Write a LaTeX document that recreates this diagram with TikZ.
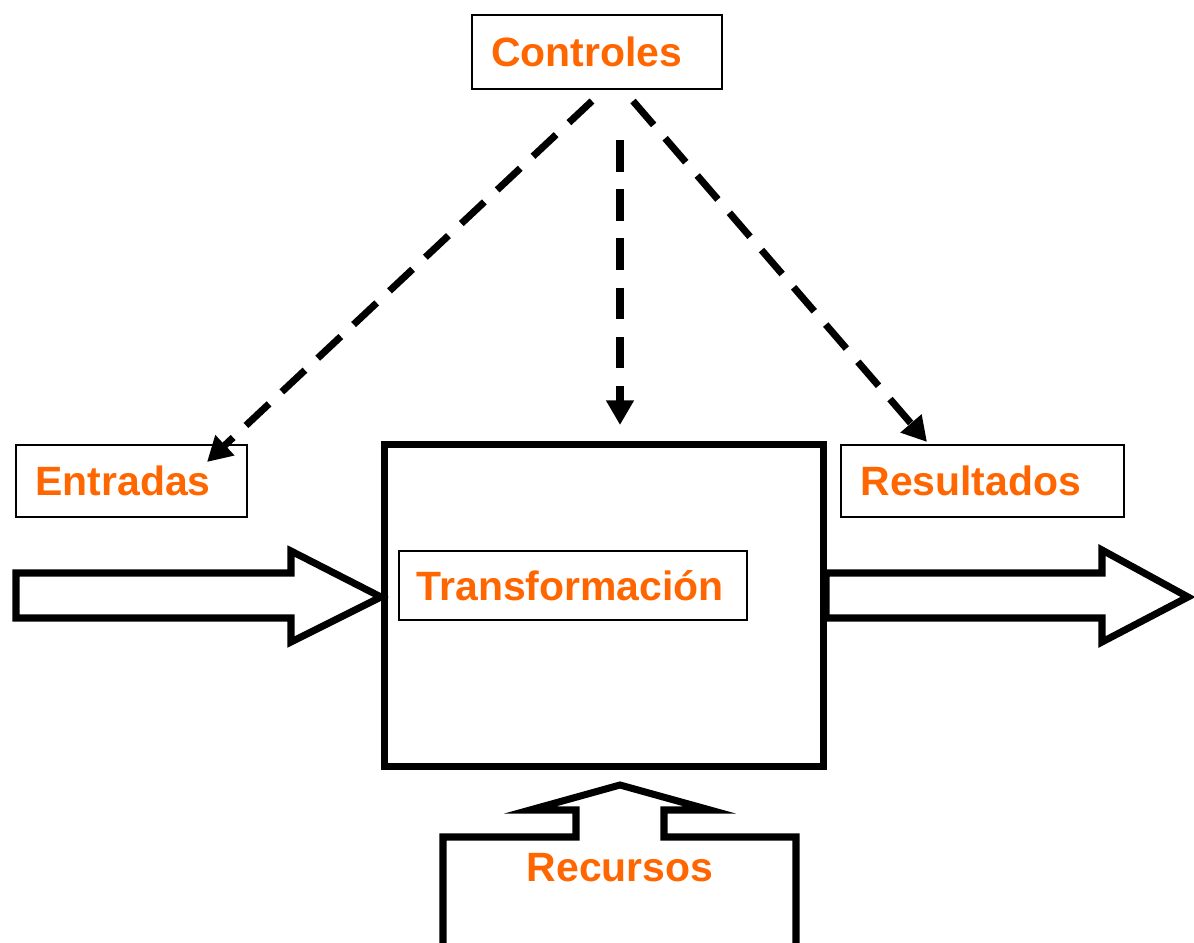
\documentclass[tikz,border=0pt]{standalone}
\usepackage{fontspec}
\setmainfont{Liberation Sans}
\usetikzlibrary{arrows.meta}
\definecolor{labelorange}{HTML}{FF6600}
\begin{document}
\begin{tikzpicture}[x=0.02cm,y=-0.02cm,
  lbl/.style={font=\fontsize{23.3pt}{28pt}\selectfont\bfseries, text=labelorange},
  tagbox/.style={lbl, draw=black, line width=1.1pt, fill=white, align=left,
    inner ysep=0pt, inner xsep=11.3pt, minimum height=40.8pt},
  bigline/.style={draw=black, line width=4pt, line join=miter, fill=white},
  ctrlflow/.style={draw=black, line width=4pt, dash pattern=on 18pt off 10pt,
    -{Triangle[length=14pt,width=15pt]}}
]
\useasboundingbox (0,0) rectangle (1194,943);
\clip (0,0) rectangle (1194,943);

% input and output block arrows
\draw[bigline] (16,573) -- (291,573) -- (291,551) -- (381,597) -- (291,642)
  -- (291,618) -- (16,618) -- cycle;
\draw[bigline] (826,573) -- (1102,573) -- (1102,550) -- (1188,597) -- (1102,642)
  -- (1102,618) -- (826,618) -- cycle;

% transformation process
\node[draw=black, line width=4pt, minimum width=249.4pt, minimum height=183.1pt,
  inner sep=0pt] (proc) at (604,605.5) {};
\node[tagbox, text width=178pt, inner xsep=10.2pt, minimum height=39.1pt]
  (trans) at (573,585.5) {Transformación};

% resources block arrow
\draw[bigline] (443,960) -- (443,837) -- (576,837) -- (576,810) -- (530,810)
  -- (620,785) -- (710,810) -- (664,810) -- (664,837) -- (796,837) -- (796,960);
\node[lbl] (rec) at (620,868) {Recursos};

% labelled boxes
\node[tagbox, text width=120.2pt, inner xsep=10.8pt, minimum height=42pt]
  (ctrl) at (597,52) {Controles};
\node[tagbox, text width=109.4pt] (entr) at (131.5,481) {Entradas};
\node[tagbox, text width=138.9pt] (res) at (982.5,481) {Resultados};

% control flows
\coordinate (c1) at (592,101);
\coordinate (c2) at (620,140);
\coordinate (c3) at (633,101);
\coordinate (t1) at (207,462);
\coordinate (t2) at (620,425);
\coordinate (t3) at (927,442);
\draw[ctrlflow] (c1) -- (t1);
\draw[ctrlflow] (c2) -- (t2);
\draw[ctrlflow] (c3) -- (t3);
\end{tikzpicture}
\end{document}
